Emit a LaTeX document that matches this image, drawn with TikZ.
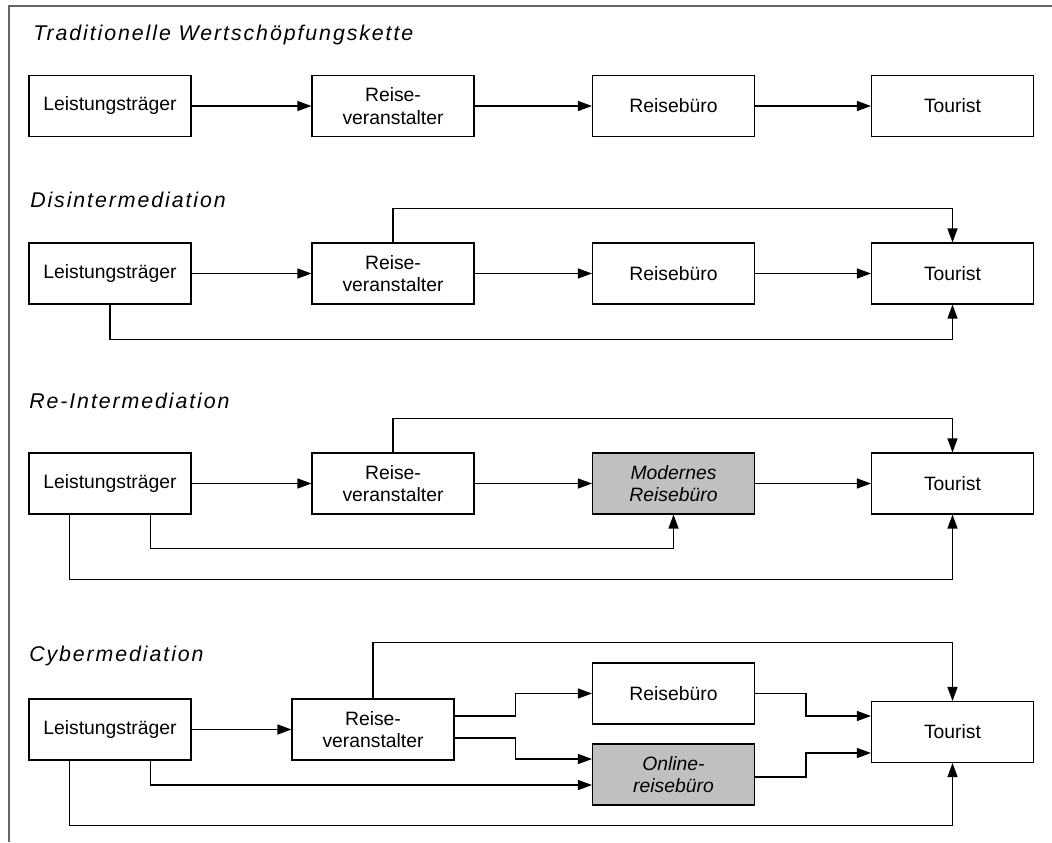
\documentclass[tikz,border=0pt]{standalone}
\usepackage{fontspec}
\setmainfont{Liberation Sans}
\newfontfamily\headfont[LetterSpace=9]{Liberation Sans}
\usetikzlibrary{arrows.meta,calc}
\definecolor{boxgray}{HTML}{C0C0C0}
\definecolor{framegray}{HTML}{666666}

\begin{document}
\begin{tikzpicture}[x=0.75pt,y=-0.75pt,
  box/.style={draw, line width=0.8pt, minimum width=121.5pt, minimum height=45.75pt,
    inner sep=0pt, align=center, font=\fontsize{14.5}{17}\selectfont},
  shaded/.style={box, fill=boxgray, font=\fontsize{14.5}{17}\selectfont\itshape},
  head/.style={anchor=base west, inner sep=0pt, font=\headfont\itshape\fontsize{16}{19}\selectfont},
  link/.style={line width=0.9pt, -{Triangle[length=10.5pt,width=7.5pt]}}]

\useasboundingbox (0,0) rectangle (1052,842);

% outer frame (top and left edges)
\draw[framegray, line width=0.9pt] (9,842) -- (9,6) -- (1052,6);

% ---- traditional chain ----
\node[head] (h1) at (33,41) {Traditionelle Wertschöpfungskette};
\node[box] (L1) at (110,106) {Leistungsträger};
\node[box] (R1) at (393,106) {Reise-\\veranstalter};
\node[box] (B1) at (673.5,106) {Reisebüro};
\node[box] (T1) at (952.5,106) {Tourist};
\draw[link] (L1) -- (R1);
\draw[link] (R1) -- (B1);
\draw[link] (B1) -- (T1);

% ---- disintermediation ----
\node[head] (h2) at (30,207) {Disintermediation};
\node[box] (L2) at (110,273.5) {Leistungsträger};
\node[box] (R2) at (393,273.5) {Reise-\\veranstalter};
\node[box] (B2) at (673.5,273.5) {Reisebüro};
\node[box] (T2) at (952.5,273.5) {Tourist};
\draw[link] (L2) -- (R2);
\draw[link] (R2) -- (B2);
\draw[link] (B2) -- (T2);
\draw[link] (R2.north) -- ++(0,-34) -| (T2.north);
\draw[link] (L2.south) -- ++(0,35) -| (T2.south);

% ---- re-intermediation ----
\node[head] (h3) at (29,408) {Re-Intermediation};
\node[box] (L3) at (110,483.5) {Leistungsträger};
\node[box] (R3) at (393,483.5) {Reise-\\veranstalter};
\node[shaded] (M3) at (673.5,483.5) {Modernes\\Reisebüro};
\node[box] (T3) at (952.5,483.5) {Tourist};
\draw[link] (L3) -- (R3);
\draw[link] (R3) -- (M3);
\draw[link] (M3) -- (T3);
\draw[link] (R3.north) -- ++(0,-34) -| (T3.north);
\draw[link] ($(L3.south west)+(122,0)$) -- ++(0,34) -| (M3.south);
\draw[link] ($(L3.south west)+(41,0)$) -- ++(0,65) -| (T3.south);

% ---- cybermediation ----
\node[head] (h4) at (29,661) {Cybermediation};
\node[box] (L4) at (110,729.5) {Leistungsträger};
\node[box] (R4) at (373,729.5) {Reise-\\veranstalter};
\node[box] (B4) at (673.5,693.5) {Reisebüro};
\node[shaded] (O4) at (673.5,774.5) {Online-\\reisebüro};
\node[box] (T4) at (952.5,732) {Tourist};
\draw[link] (L4) -- (R4);
\draw[link] (R4.north) -- ++(0,-56) -| (T4.north);
\draw[link] ($(R4.east)+(0,-13.5)$) -- ++(61,0) |- (B4.west);
\draw[link] ($(R4.east)+(0,8.5)$) -- ++(61,0) |- ($(O4.west)+(0,-15.5)$);
\draw[link] ($(L4.south west)+(122,0)$) |- ($(O4.west)+(0,10.5)$);
\draw[link] ($(L4.south west)+(41,0)$) -- ++(0,65) -| (T4.south);
\draw[link] (B4.east) -- ++(51,0) |- ($(T4.west)+(0,-16)$);
\draw[link] ($(O4.east)+(0,2.5)$) -- ++(51,0) |- ($(T4.west)+(0,21)$);

\end{tikzpicture}
\end{document}
